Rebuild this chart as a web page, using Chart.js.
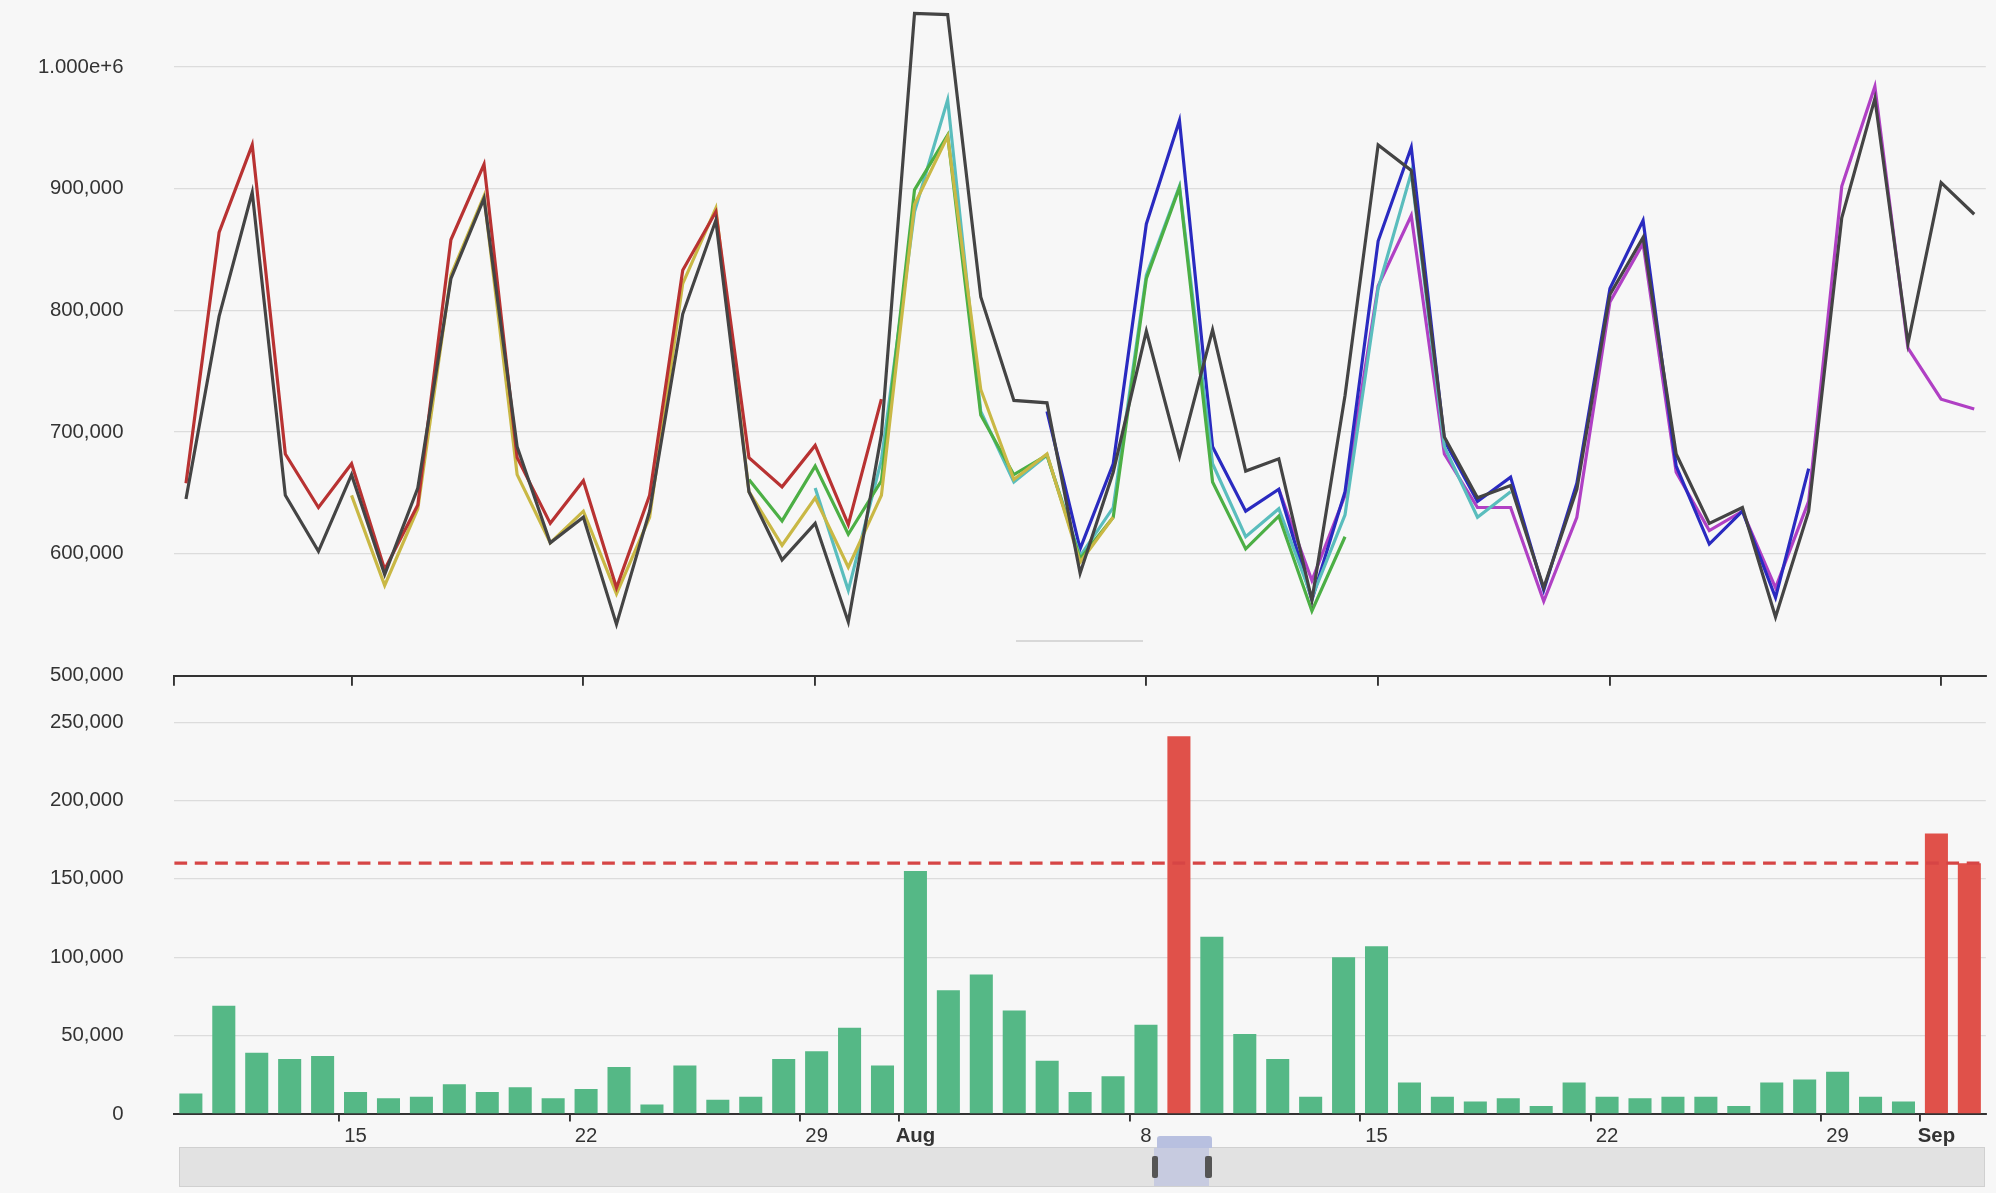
<!DOCTYPE html>
<html><head><meta charset="utf-8">
<script src="https://cdn.jsdelivr.net/npm/chart.js@4/dist/chart.umd.min.js"></script>
<style>
html,body{margin:0;background:#f7f7f7;font-family:"Helvetica Neue",Arial,"Liberation Sans",sans-serif;overflow:hidden}
#w{position:relative;width:1996px;height:1193px}
#top,#bot,#slider,#sel,#knob,.h,#mark{position:absolute}
#slider{background:#e2e2e2;border:1px solid #d0d0d0}
#sel{background:rgba(150,160,220,0.35)}
.h{background:#555;border-radius:2px}
#knob{background:#b8c0e0;border-radius:3px 3px 0 0}
#mark{background:#d8d8d8}
</style></head><body>
<div id="w">
<div id="top"><canvas id="c1"></canvas></div>
<div id="bot"><canvas id="c2"></canvas></div>
<div id="mark"></div>
<div id="slider"><div id="knob"></div><div id="sel"><div class="h" id="h1"></div><div class="h" id="h2"></div></div></div>
</div>
<script>
const days = [];
for (let d = 10; d <= 31; d++) days.push('Jul ' + d);
for (let d = 1; d <= 31; d++) days.push('Aug ' + d);
for (let d = 1; d <= 2; d++) days.push('Sep ' + d);
const N = null;
const actual = [645000,795000,897000,648000,602000,665000,583000,654000,826000,892000,688000,609000,630000,542000,635000,797000,874000,651000,595000,625000,544000,698000,1044000,1043000,811000,726000,724000,584000,667000,783000,680000,784000,668000,678000,562000,730000,936000,915000,696000,646000,656000,572000,653000,813000,860000,682000,625000,638000,548000,635000,876000,974000,773000,905000,879000];
const fcRed = [658000,864000,936000,682000,638000,674000,587000,640000,858000,920000,679000,625000,660000,572000,648000,833000,881000,679000,655000,689000,624000,727000];
const fcYellow = [N,N,N,N,N,648000,574000,637000,829000,894000,665000,609000,635000,567000,630000,822000,884000,651000,607000,646000,589000,648000,887000,943000,735000,661000,682000,593000,630000];
const fcGreen = [N,N,N,N,N,N,N,N,N,N,N,N,N,N,N,N,N,661000,627000,672000,616000,660000,899000,944000,714000,665000,681000,596000,630000,826000,901000,659000,604000,631000,553000,614000];
const fcTeal = [N,N,N,N,N,N,N,N,N,N,N,N,N,N,N,N,N,N,N,654000,570000,677000,881000,973000,717000,659000,681000,598000,638000,829000,902000,674000,614000,637000,564000,632000,818000,913000,688000,630000,651000];
const fcBlue = [N,N,N,N,N,N,N,N,N,N,N,N,N,N,N,N,N,N,N,N,N,N,N,N,N,N,717000,604000,674000,871000,956000,688000,635000,653000,562000,651000,857000,934000,693000,643000,663000,570000,658000,818000,874000,672000,608000,635000,564000,670000];
const fcMagenta = [N,N,N,N,N,N,N,N,N,N,N,N,N,N,N,N,N,N,N,N,N,N,N,N,N,N,N,N,N,N,N,N,N,653000,578000,648000,820000,878000,682000,638000,638000,561000,630000,807000,855000,667000,619000,635000,572000,643000,902000,984000,769000,727000,719000];
const errors = [13000,69000,39000,35000,37000,14000,10000,11000,19000,14000,17000,10000,16000,30000,6000,31000,9000,11000,35000,40000,55000,31000,155000,79000,89000,66000,34000,14000,24000,57000,241000,113000,51000,35000,11000,100000,107000,20000,11000,8000,10000,5000,20000,11000,10000,11000,11000,5000,20000,22000,27000,11000,8000,179000,160000];
const threshold = 160000;
const topTickIdx = [5,12,19,29,36,43,53];
const labelIdx = {5:'15',12:'22',19:'29',22:'Aug',29:'8',36:'15',43:'22',50:'29',53:'Sep'};

const S = 1.27296;
function box(id, l, t, w, h){ const e=document.getElementById(id); e.style.left=l*S+'px'; e.style.top=t*S+'px'; e.style.width=w*S+'px'; e.style.height=h*S+'px'; }
box('top',0,-45,1568,625);
box('bot',0,518,1568,407);
box('mark',798,503,100,1.2);
box('slider',141,901,1417,30);
box('sel',765,0,43,30);
box('knob',767,-9,43,9);
box('h1',-2,6,5,18); box('h2',40,6,5,18);

Chart.defaults.font.family = '"Helvetica Neue",Arial,"Liberation Sans",sans-serif';
Chart.defaults.font.size = 16*S;
Chart.defaults.color = '#333';
const fixW = s => { s.width = 137*S; };

const mk = (data, color) => ({data: data.map((v,i)=>({x:i,y:v})), borderColor: color, borderWidth: 2.5*S, pointRadius: 0, fill: false, tension: 0, spanGaps: false});
new Chart(document.getElementById('c1'), {
  type: 'line',
  data: {datasets: [
    mk(actual,'#444444'), mk(fcRed,'#b83232'), mk(fcYellow,'#c9b845'), mk(fcGreen,'#4caf45'),
    mk(fcTeal,'#5abdbd'), mk(fcBlue,'#2a2ac0'), mk(fcMagenta,'#b040c4')]},
  options: {
    responsive: true, maintainAspectRatio: false, animation: false, devicePixelRatio: 1,
    layout: {padding: {top: 0, right: 8*S, bottom: 0}},
    plugins: {legend: {display: false}, tooltip: {enabled: false}},
    scales: {
      x: {type: 'linear', min: -0.35, max: 54.35,
        afterBuildTicks: s => { s.ticks = [{value:-0.35}].concat(topTickIdx.map(v=>({value:v}))); },
        ticks: {callback: () => '', padding: 0},
        afterFit: s => { s.height = 11*S; },
        grid: {drawOnChartArea: false, drawTicks: true, tickLength: 8*S, color: '#333', lineWidth: 1.5*S},
        border: {color: '#333', width: 1.5*S}},
      y: {min: 500000, max: 1050000, afterFit: fixW,
        afterBuildTicks: s => { s.ticks = [500000,600000,700000,800000,900000,1000000].map(v=>({value:v})); },
        ticks: {padding: 40*S, callback: v => v === 1000000 ? '1.000e+6' : v.toLocaleString('en-US')},
        grid: {color: '#dcdcdc', lineWidth: S, drawTicks: false}, border: {display: false}}
    }
  }
});

const thr = {id:'thr', afterDatasetsDraw(c){
  const y = c.scales.y.getPixelForValue(threshold), a = c.chartArea, ctx = c.ctx;
  ctx.save(); ctx.strokeStyle='#d64545'; ctx.lineWidth=2.5*S; ctx.setLineDash([10*S,6*S]);
  ctx.beginPath(); ctx.moveTo(a.left,y); ctx.lineTo(a.right,y); ctx.stroke(); ctx.restore();
}};
new Chart(document.getElementById('c2'), {
  type: 'bar',
  data: {labels: days, datasets: [{data: errors,
    backgroundColor: errors.map(v => v > threshold - 1 ? '#e0514a' : '#55b886'),
    categoryPercentage: 0.7, barPercentage: 1}]},
  options: {
    responsive: true, maintainAspectRatio: false, animation: false, devicePixelRatio: 1,
    layout: {padding: {top: 12*S, right: 8*S}},
    plugins: {legend: {display: false}, tooltip: {enabled: false}},
    scales: {
      x: {offset: true,
        ticks: {autoSkip: false, maxRotation: 0, padding: 2*S,
          callback: (v,i) => labelIdx[i] || '',
          font: c => ({size: 16*S, weight: (labelIdx[c.index]==='Aug'||labelIdx[c.index]==='Sep') ? 'bold' : 'normal'})},
        grid: {drawOnChartArea: false, tickLength: 6*S, lineWidth: 1.5*S, color: c => labelIdx[c.index] ? '#333' : 'rgba(0,0,0,0)'},
        border: {color: '#333', width: 1.5*S}},
      y: {min: 0, max: 250000, afterFit: fixW,
        ticks: {stepSize: 50000, padding: 40*S, callback: v => v.toLocaleString('en-US')},
        grid: {color: '#dcdcdc', lineWidth: S, drawTicks: false}, border: {display: false}}
    }
  },
  plugins: [thr]
});
</script>
</body></html>
